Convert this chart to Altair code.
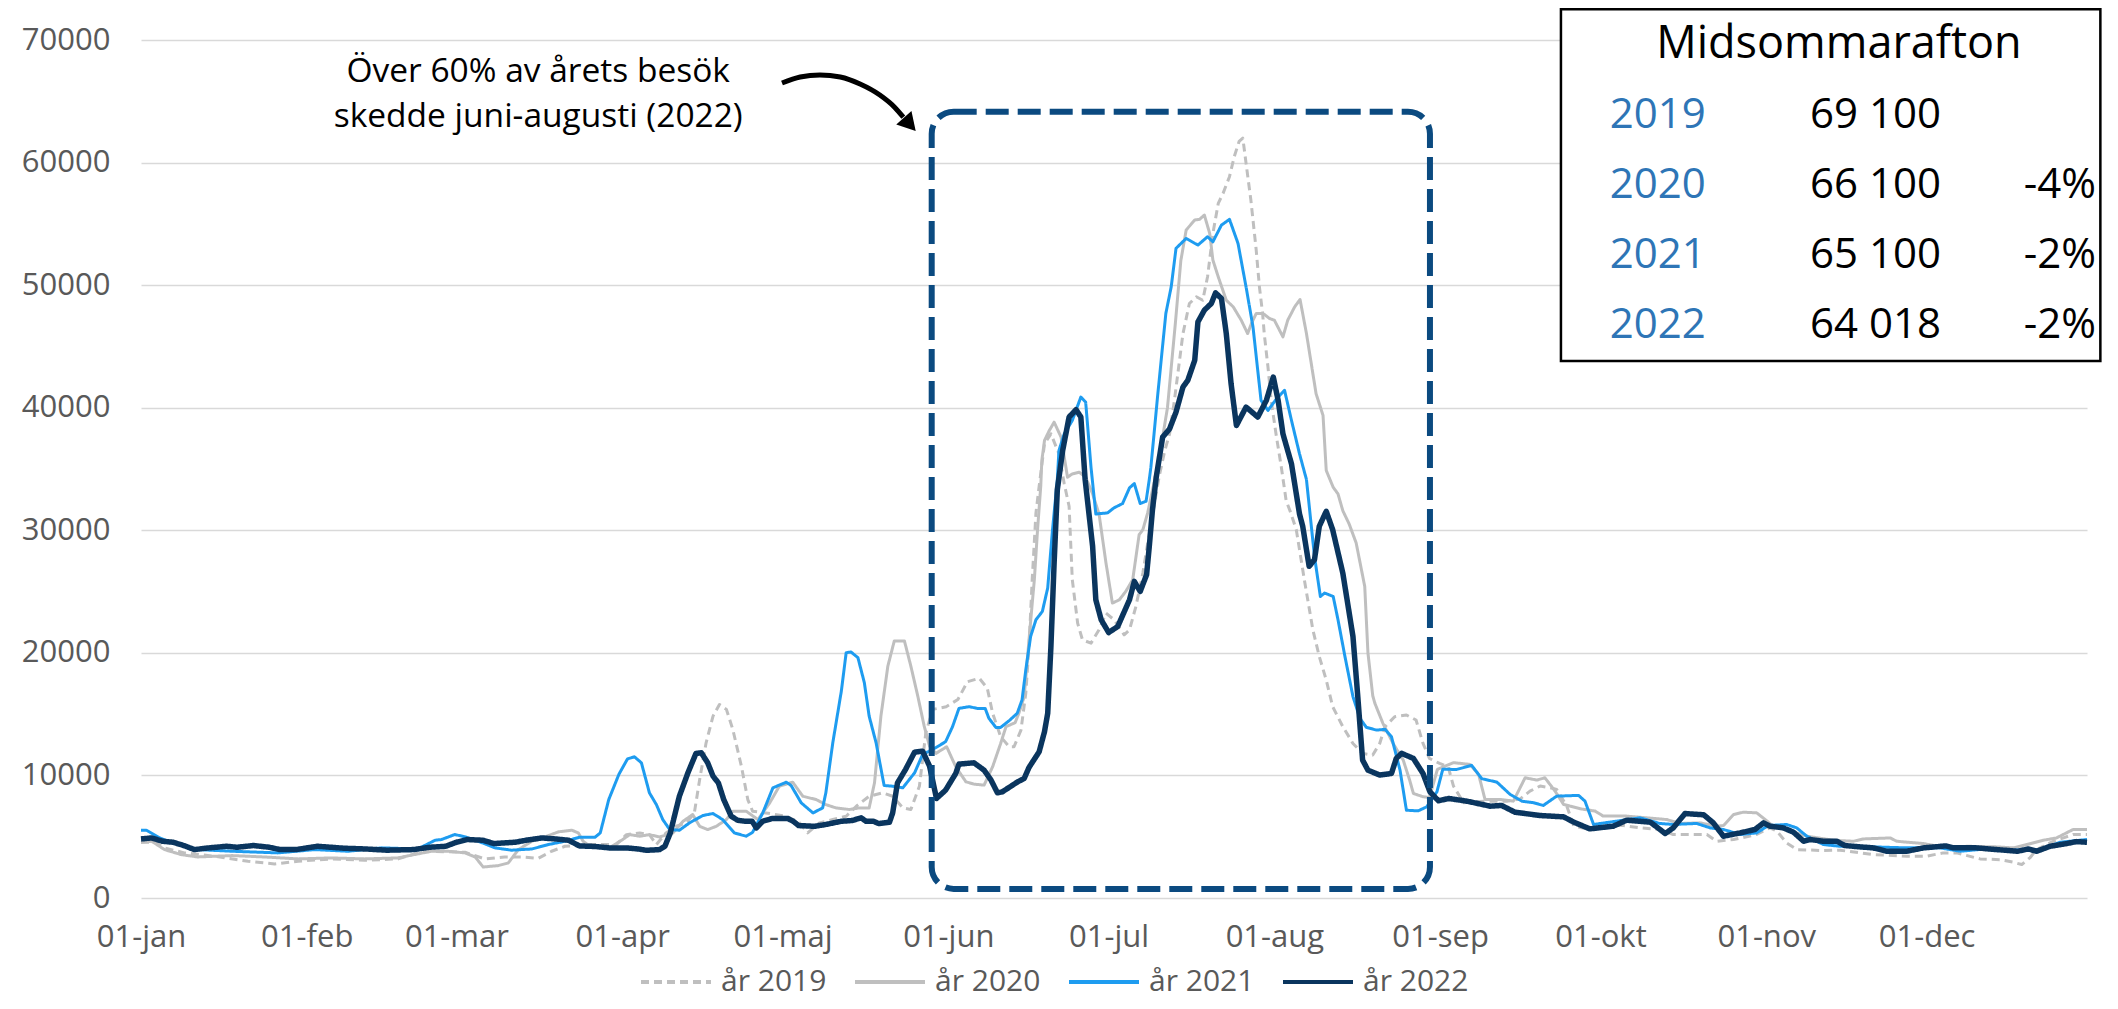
import altair as alt
import pandas as pd

FONT = "Open Sans"

SERIES = ["år 2019", "år 2020", "år 2021", "år 2022"]
COLORS = ["#bfbfbf", "#bfbfbf", "#1e9cf0", "#0a355e"]

MONTH_DAYS = [0, 31, 59, 90, 120, 151, 181, 212, 243, 273, 304, 334]
MONTH_LABELS = ["01-jan", "01-feb", "01-mar", "01-apr", "01-maj", "01-jun",
                "01-jul", "01-aug", "01-sep", "01-okt", "01-nov", "01-dec"]

# (day of year, visitors)
y2019 = [(0,4550),(2.5,4550),(4.4,4090),(8.1,3680),(13.8,3410),(20,3000),(25,2780),(29.4,3000),(35.6,3190),(41.8,3080),(48.1,3190),(51.8,3680),(54.3,3815),(60.6,3730),(64.3,3190),(68,3350),(71.2,3350),(74.3,3240),(76.8,3815),(79.3,4220),(84.5,4360),(88.9,4360),(90.8,5170),(93.3,5310),(95.1,5170),(96.4,4360),(98.2,5310),(100.1,5850),(102,6130),(103.5,6940),(104.5,9670),(105.7,12660),(107,14840),(108.2,15790),(109.5,15390),(110.7,13750),(112.3,10760),(113.5,8030),(114.4,7080),(116.9,6940),(120.7,6670),(123.2,6130),(124.7,5310),(126.9,6130),(129.4,6400),(131.9,6670),(133.8,7490),(136.2,8300),(138.7,8580),(140.6,8300),(142.5,7350),(144,7220),(145.6,9120),(146.8,13480),(148.1,15390),(150.6,15600),(152.8,16200),(154.6,17650),(156.8,17930),(158.3,17110),(159.3,15070),(160.8,13160),(162.4,12340),(163.3,12340),(164.6,13700),(165.5,16700),(166.1,20520),(166.7,25970),(167.4,31420),(168,33600),(169,37060),(170.2,37870),(171.7,36240),(172.7,33780),(173.6,31960),(174.2,25970),(175.2,22420),(176.1,21060),(177.7,20790),(179.2,21880),(180.5,23240),(182,22700),(183.9,21470),(184.9,21880),(186.1,23790),(187.4,26510),(188.5,29500),(189.5,32000),(190.5,34500),(191.5,36500),(192.4,37870),(193.3,40600),(194.9,46050),(196.1,48500),(197.4,49050),(198.6,48770),(199.5,50680),(200.5,54220),(201.5,56670),(202.4,57490),(203.6,58850),(204.5,60490),(205.4,61720),(206.1,61990),(206.7,59950),(207.6,56950),(208.6,52860),(209.2,49860),(209.8,47680),(210.1,46050),(210.8,43320),(211.4,40600),(212.3,37870),(213.3,35150),(214.2,32420),(215,31500),(216.1,30050),(217.6,25970),(219.2,21880),(220.4,19700),(221.7,17790),(222.9,15610),(224.8,13980),(226.7,12610),(228.5,11800),(230.4,11660),(231.7,12610),(232.7,13980),(234.5,14790),(236.7,14930),(238.5,14520),(239.8,12610),(241,11390),(242.9,10980),(244.5,10710),(245.5,9130),(247.4,7770),(251.1,7900),(255.5,7900),(258,8090),(259.8,8720),(261.7,9130),(263.6,9000),(264.8,8860),(266.7,7490),(268,5860),(270.4,5640),(274.2,5910),(277.3,5910),(280.4,5720),(284.1,5590),(286.6,5180),(290.4,5180),(292.9,5180),(294.7,4630),(297.9,4770),(302.2,5180),(304.7,5720),(306,5450),(307.8,4500),(309.7,3950),(314.7,3870),(317.8,3900),(324,3540),(330.3,3410),(334,3410),(337.1,3680),(339.6,3680),(344,3190),(347.7,3130),(350.2,2920),(351.8,2730),(353.3,3270),(354.6,3950),(357.7,4630),(361.4,5180),(364,5180)]

y2020 = [(0,4550),(2,4630),(4.4,3950),(7.5,3540),(10.6,3350),(17,3460),(23,3350),(29.4,3190),(35.6,3270),(41.8,3190),(48,3270),(54.3,3815),(57.5,3815),(60.6,3680),(62.5,3350),(64,2530),(66.8,2640),(68.7,2860),(70.6,3950),(73.1,4630),(75.6,4990),(78.1,5400),(80.6,5530),(81.8,5310),(82.7,4630),(84,4220),(87.6,4080),(90.1,4770),(91.4,5170),(93.3,5040),(95.1,5170),(97,4980),(99.5,5310),(101.4,6260),(103.2,6810),(104.5,5850),(106,5580),(107.6,5850),(109.5,6400),(110.7,7080),(113.2,7080),(115.4,6400),(117.6,7760),(119.4,9120),(121.9,9450),(123.8,8300),(126.3,8030),(128.1,7620),(130,7350),(132.5,7220),(134.4,7350),(136.2,7350),(137.2,9390),(138.4,14840),(139.7,18920),(140.9,20970),(142.8,20970),(144,18920),(145.3,16470),(146.5,14020),(147.5,12390),(148.7,11800),(150.7,12340),(152.4,10710),(154.3,9480),(155.8,9290),(157.7,9210),(159.3,10710),(160.8,12610),(161.8,13980),(163.5,14300),(164.2,15070),(165.2,16430),(166.1,21060),(167.1,25970),(167.7,30050),(168.3,33600),(168.5,35700),(169,37330),(169.9,38140),(170.8,38820),(172.1,37600),(173.3,34330),(174.2,34600),(175.5,34740),(176.7,34330),(178,32970),(179.2,31330),(180.5,27330),(181.7,24060),(183,24330),(184.2,25010),(185.5,25970),(186.7,29640),(187.4,30050),(188.3,31420),(190.5,36000),(192,40000),(193.5,47000),(194.5,52000),(195.5,54500),(197.1,55310),(198,55370),(198.9,55720),(199.9,54220),(200.5,52040),(201.5,50680),(203,48770),(204.3,48230),(205.8,47140),(207,46050),(207.7,46870),(208.6,47680),(209.9,47680),(211.1,47280),(212,47140),(213.6,45780),(214.5,47140),(215.8,48230),(216.8,48830),(218,46050),(219.2,42780),(219.8,41140),(221.1,39370),(221.7,34880),(223,33510),(223.9,32970),(224.8,31600),(226,30500),(227.3,28960),(228.9,25420),(229.5,20000),(230.4,16500),(230.8,15880),(232.3,14250),(234.2,12610),(236.1,11250),(237.3,9620),(238,8530),(239.8,8260),(241,8200),(242.5,10500),(245.5,11040),(248.6,10900),(250.2,10080),(251.4,8040),(254.2,8040),(256.7,7900),(258.9,9810),(261.1,9620),(262.6,9810),(264.5,8720),(266.1,7630),(269.2,7280),(272,7090),(273.5,6680),(277.9,6680),(285.4,6400),(287.9,6080),(291.6,6130),(294.7,5860),(296,5910),(297.9,6810),(299.7,7000),(302.2,6950),(303.8,6400),(305.3,5860),(308.5,5450),(311.6,5040),(316.6,4710),(320.3,4630),(322.2,4820),(327.2,4900),(328.4,4630),(333.4,4440),(337.8,4090),(341.5,4220),(347.1,4170),(350.2,4090),(352.7,4360),(355.8,4710),(358.3,4900),(361.4,5590),(364,5590)]

y2021 = [(0,5530),(1,5530),(3.5,4900),(6.3,4440),(10.6,3950),(17,3815),(25.6,3680),(32.5,3950),(38.7,3815),(45,4090),(51.8,4000),(55,4710),(56.2,4770),(58.7,5180),(60.6,4990),(63.1,4630),(66.2,4090),(69.3,3900),(73.1,4000),(76.2,4360),(79.3,4630),(82,4950),(84.9,4950),(85.9,5310),(87.5,8040),(89.4,10100),(91,11350),(92.3,11520),(93.6,11030),(95.1,8580),(96.4,7620),(97.6,6400),(98.9,5580),(100.7,5530),(102.6,6130),(105.1,6730),(107,6890),(108.8,6400),(111,5310),(113.2,5040),(114.4,5360),(116.3,6940),(118.2,8990),(120.7,9450),(121.6,9180),(123.5,7760),(125.7,6940),(127.5,7350),(128.1,8580),(129.4,12660),(131,16880),(131.9,20010),(132.8,20070),(134.1,19610),(135.3,17570),(136.2,14840),(137.5,12660),(139,9180),(140.6,9120),(142.5,8990),(144.7,10210),(146.2,11710),(148.1,12120),(150.5,12750),(151.8,13980),(153,15470),(154.9,15610),(156.4,15470),(157.9,15470),(158.6,14660),(159.9,13920),(160.8,13920),(162.4,14470),(163.9,15070),(164.8,16160),(165.5,18610),(166.4,21330),(167.4,22700),(168.6,23380),(169.6,25290),(170.5,30050),(171.4,34140),(171.7,36510),(172.7,37870),(174.2,38960),(175.8,40870),(176.7,40460),(177.7,35150),(178.6,31330),(180.8,31420),(182,31830),(183.6,32180),(184.9,33460),(185.8,33815),(186.9,32180),(188,32370),(188.6,34140),(188.9,35150),(190.2,41140),(191.7,47700),(192.7,49860),(193.6,53000),(195.5,53810),(197.7,53270),(199.5,53950),(200.5,53540),(202.1,54900),(203.6,55370),(205.2,53400),(206.7,49860),(208,46590),(209.5,40600),(210.8,39780),(212.4,40730),(213.9,41420),(215.2,38960),(216.7,36240),(218,34140),(219.5,27870),(220.6,24600),(221.4,24880),(223,24600),(223.9,22700),(225.2,19700),(226.7,16430),(228,14660),(229.2,13920),(231.1,13700),(232.7,13760),(233.9,13160),(235.5,10430),(236.7,7160),(238.9,7110),(240.5,7440),(242.4,8660),(243.5,10500),(246.1,10490),(248.9,10820),(250.8,9730),(253.6,9460),(256.1,8450),(258.3,7900),(260.5,7770),(262.3,7550),(264.8,8310),(268.9,8370),(270.1,7900),(271.7,6000),(276,6270),(280.4,6540),(284.1,6080),(286.6,6000),(291,6080),(293.5,5720),(296,5590),(299.1,5180),(302.2,5310),(304.4,5910),(307.8,6000),(309.7,5720),(311.6,5040),(314.7,4360),(317.8,4220),(324,4170),(330.3,4090),(336.5,4090),(340.3,3815),(345,4000),(350,3900),(355,3950),(359,4550),(364,4770)]

y2022 = [(0,4820),(2,4900),(4,4630),(6,4550),(8,4280),(10,3950),(12,4060),(16,4220),(18,4140),(21,4280),(24,4140),(26,3950),(29,3950),(33,4220),(38,4060),(42,4000),(46,3900),(51,3950),(54,4140),(57,4220),(59,4550),(61,4770),(64,4710),(66,4440),(70,4550),(72,4710),(75,4900),(78,4800),(80,4710),(82,4250),(85,4200),(88,4070),(91,4080),(93,4000),(94.5,3890),(97,3950),(98,4220),(99,5300),(100.7,8300),(102.3,10210),(103.8,11790),(104.8,11850),(106,11030),(107,9940),(108,9390),(109,8030),(110.4,6670),(111.6,6340),(113,6260),(114.3,6260),(115.1,5720),(116.3,6260),(118,6480),(121,6480),(122,6260),(123,5910),(126,5850),(128,5990),(131,6260),(133,6320),(134.7,6540),(135.6,6260),(137,6260),(138,6070),(140,6180),(140.6,6940),(141.5,9390),(143,10480),(144.7,11900),(146.2,11980),(147.5,10760),(148.8,8120),(150.5,8800),(152.4,10160),(153,10925),(155.8,11030),(157.7,10430),(159,9620),(160.2,8580),(161.1,8660),(164,9480),(165.2,9750),(166.1,10650),(168,11930),(169,13570),(169.6,15070),(170.2,20520),(170.8,27330),(171.4,33320),(172.4,36510),(173.6,39240),(174.9,39840),(175.8,39240),(176.6,34140),(178,28690),(178.6,24330),(179.6,22700),(181,21660),(182.7,22150),(184.9,24330),(185.8,25830),(186.9,25010),(188.1,26380),(188.6,28690),(189.2,31690),(189.9,34330),(191.1,37600),(192.4,38280),(193.6,39640),(194.9,41690),(195.8,42230),(197.1,43870),(197.7,47000),(198.9,47960),(200.2,48500),(201,49370),(202.1,48910),(203,46050),(203.9,41960),(204.9,38550),(206.7,40050),(208.9,39240),(210.5,40600),(211.8,42500),(212.7,40600),(213.6,37870),(215.2,35420),(216.7,31330),(217.3,30330),(218.5,27060),(219.5,27600),(220.4,30330),(221.7,31550),(222.9,30050),(224.8,26510),(226.7,21330),(227.6,16430),(228.5,11250),(229.5,10430),(231.7,10030),(233.9,10160),(234.8,11390),(235.8,11800),(238,11390),(239.8,10160),(241.1,8660),(242.7,7930),(244.6,8120),(248,7900),(252.4,7490),(254.5,7550),(257,7000),(261.7,6730),(266.1,6620),(268,6190),(271,5640),(275.4,5860),(277.9,6350),(282.3,6190),(283.5,5800),(285.1,5260),(286.6,5720),(288.8,6890),(292.3,6790),(294.1,6130),(296,5040),(299.1,5310),(301.9,5590),(303.5,6130),(304.7,5860),(307.2,5720),(309.1,5370),(311,4630),(312.2,4770),(314.7,4630),(317.2,4630),(318.7,4280),(321.6,4170),(324,4090),(326.5,3815),(330.3,3815),(333.4,4090),(337.6,4250),(339,4090),(343.3,4090),(347.1,3950),(351,3815),(353,4000),(354.6,3815),(357.1,4220),(360.2,4440),(362,4600),(364,4550)]

# Annotation content
NOTE_LINES = ["Över 60% av årets besök", "skedde juni-augusti (2022)"]
TABLE_TITLE = "Midsommarafton"
TABLE_YEARS = ["2019", "2020", "2021", "2022"]
TABLE_VISITS = ["69 100", "66 100", "65 100", "64 018"]
TABLE_CHANGE = ["", "-4%", "-2%", "-2%"]

# Summer period frame (day of year / visitors) and arrow path
BOX_DAYS = (147.9, 241.1)
BOX_VALUES = (740, 64150)
ARROW = [(119.9, 66490), (123.3, 66980), (127, 67150), (130.8, 66980),
         (134.5, 66410), (138.2, 65510), (141.0, 64500), (142.6, 63700)]
ARROW_HEAD = (143.8, 63120)

rows = []
for name, pts in zip(SERIES, [y2019, y2020, y2021, y2022]):
    for d, v in pts:
        rows.append({"series": name, "day": d, "value": v})
df = pd.DataFrame(rows)

xs = alt.Scale(domain=[0, 364], nice=False, zero=False)
ys = alt.Scale(domain=[0, 70000], nice=False, zero=True)

label_expr = "{}[indexof({}, datum.value)]".format(
    "[" + ",".join("'%s'" % m for m in MONTH_LABELS) + "]",
    "[" + ",".join(str(d) for d in MONTH_DAYS) + "]",
)

xaxis = alt.Axis(values=MONTH_DAYS, labelExpr=label_expr, title=None, grid=False,
                 domain=False, ticks=False, tickSize=0, labelFont=FONT,
                 labelFontSize=31, labelColor="#595959", labelPadding=24,
                 labelOverlap=False, labelFlush=False)
yaxis = alt.Axis(values=list(range(0, 70001, 10000)), format="d", title=None,
                 grid=True, gridColor="#d9d9d9", gridWidth=1.7, domain=False,
                 ticks=False, tickSize=0, labelFont=FONT, labelFontSize=31,
                 labelColor="#595959", labelPadding=31)


def X(field):
    return alt.X(field, scale=xs, axis=xaxis)


def Y(field):
    return alt.Y(field, scale=ys, axis=yaxis)


leg = alt.Legend(orient="none", legendX=498, legendY=905, direction="horizontal",
                 title=None, symbolType="stroke", symbolSize=4900, symbolStrokeWidth=4,
                 labelFont=FONT, labelFontSize=30, labelColor="#595959",
                 labelOffset=8, columnPadding=20)

lines = alt.Chart(df).mark_line(strokeJoin="round").encode(
    x=X("day:Q"),
    y=Y("value:Q"),
    color=alt.Color("series:N", scale=alt.Scale(domain=SERIES, range=COLORS), legend=leg),
    strokeDash=alt.StrokeDash("series:N", scale=alt.Scale(domain=SERIES, range=[[8, 5], [1, 0], [1, 0], [1, 0]]), legend=leg),
    strokeWidth=alt.condition("datum.series == 'år 2022'", alt.value(5.5), alt.value(3)),
)

box_df = pd.DataFrame([{"d0": BOX_DAYS[0], "d1": BOX_DAYS[1], "v0": BOX_VALUES[0], "v1": BOX_VALUES[1]}])
box = alt.Chart(box_df).mark_rect(fillOpacity=0, stroke="#0b4a80", strokeWidth=6,
                                  strokeDash=[23, 9], cornerRadius=22).encode(
    x=X("d0:Q"), x2="d1:Q", y=Y("v0:Q"), y2="v1:Q")

arrow_df = pd.DataFrame([{"day": d, "value": v} for d, v in ARROW])
arrow = alt.Chart(arrow_df).mark_line(color="black", strokeWidth=5, interpolate="monotone",
                                      strokeCap="butt").encode(x=X("day:Q"), y=Y("value:Q"))
head_df = pd.DataFrame([{"day": ARROW_HEAD[0], "value": ARROW_HEAD[1]}])
head = alt.Chart(head_df).mark_point(shape="triangle-right", filled=True, size=420,
                                     color="black", opacity=1, angle=48).encode(
    x=X("day:Q"), y=Y("value:Q"))

# text placement (day / value coordinates)
note_df = pd.DataFrame({"text": NOTE_LINES, "day": [74.3, 74.3], "value": [67390, 63720]})
note = alt.Chart(note_df).mark_text(font=FONT, fontSize=33.5, color="black",
                                    align="center", baseline="middle").encode(
    x=X("day:Q"), y=Y("value:Q"), text="text:N")

tbox_df = pd.DataFrame([{"d0": 265.6, "d1": 366.5, "v0": 43810, "v1": 72510}])
tbox = alt.Chart(tbox_df).mark_rect(fill="white", stroke="black", strokeWidth=2.5).encode(
    x=X("d0:Q"), x2="d1:Q", y=Y("v0:Q"), y2="v1:Q")

row_vals = [63880, 58170, 52460, 46750]
title_df = pd.DataFrame([{"text": TABLE_TITLE, "day": 317.6, "value": 69670}])
ttitle = alt.Chart(title_df).mark_text(font=FONT, fontSize=45, color="black",
                                       align="center", baseline="middle").encode(
    x=X("day:Q"), y=Y("value:Q"), text="text:N")

years_df = pd.DataFrame({"text": TABLE_YEARS, "day": [292.7] * 4, "value": row_vals})
tyears = alt.Chart(years_df).mark_text(font=FONT, fontSize=42, color="#2e75b6",
                                       align="right", baseline="middle").encode(
    x=X("day:Q"), y=Y("value:Q"), text="text:N")

vals_df = pd.DataFrame({"text": TABLE_VISITS + TABLE_CHANGE,
                        "day": [336.7] * 4 + [365.7] * 4,
                        "value": row_vals + row_vals})
tvals = alt.Chart(vals_df).mark_text(font=FONT, fontSize=42, color="black",
                                     align="right", baseline="middle").encode(
    x=X("day:Q"), y=Y("value:Q"), text="text:N")

chart = alt.layer(lines, box, arrow, head, note, tbox, ttitle, tyears, tvals).properties(
    width=1946, height=858,
    padding={"left": 133, "top": 32, "right": 23, "bottom": 103},
    autosize=alt.AutoSizeParams(type="none"),
    background="white",
).configure_view(stroke=None)

chart.save("out.html", embed_options={"renderer": "svg", "actions": False})
